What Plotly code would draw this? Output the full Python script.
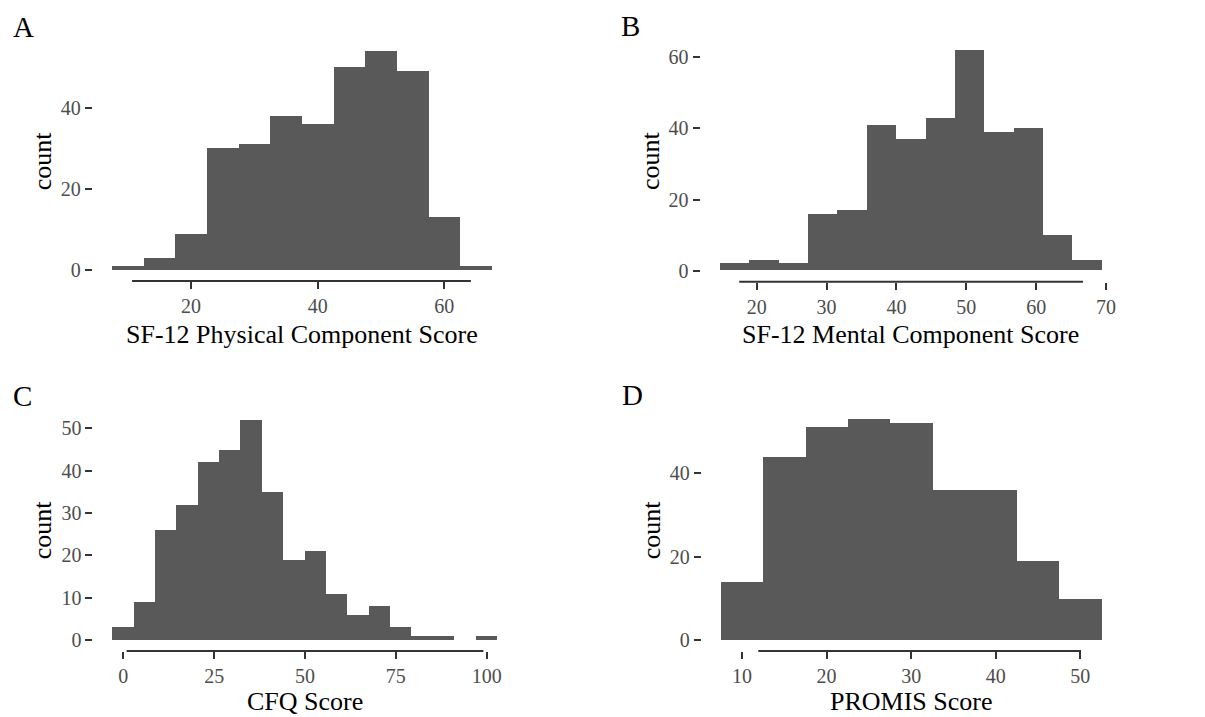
import plotly.graph_objects as go

# The page body has an 8px margin; work in page pixels and convert.
OFF = 8
W, H = 1205 - OFF, 717 - OFF

# ---------------- data ----------------
pcs_centers = [10, 15, 20, 25, 30, 35, 40, 45, 50, 55, 60, 65]
pcs_counts = [1, 3, 9, 30, 31, 38, 36, 50, 54, 49, 13, 1]
pcs_width = 5
pcs_extent = [10.7, 64.2]
pcs_ticks = [20, 40, 60]
pcs_yticks = [0, 20, 40]

mcs_centers = [16.8, 21.0, 25.2, 29.4, 33.6, 37.8, 42.0, 46.2, 50.4, 54.6, 58.8, 63.0, 67.2]
mcs_counts = [2, 3, 2, 16, 17, 41, 37, 43, 62, 39, 40, 10, 3]
mcs_width = 4.2
mcs_extent = [17.5, 66.7]
mcs_ticks = [20, 30, 40, 50, 60, 70]
mcs_yticks = [0, 20, 40, 60]

cfq_width = 100 / 17
cfq_centers = [k * cfq_width for k in range(18)]
cfq_counts = [3, 9, 26, 32, 42, 45, 52, 35, 19, 21, 11, 6, 8, 3, 1, 1, 0, 1]
cfq_extent = [0.9, 99.1]
cfq_ticks = [0, 25, 50, 75, 100]
cfq_yticks = [0, 10, 20, 30, 40, 50]

promis_centers = [10, 15, 20, 25, 30, 35, 40, 45, 50]
promis_counts = [14, 44, 51, 53, 52, 36, 36, 19, 10]
promis_width = 5
promis_extent = [11.93, 50.08]
promis_ticks = [10, 20, 30, 40, 50]
promis_yticks = [0, 20, 40]

letters = ["A", "B", "C", "D"]
xtitles = ["SF-12 Physical Component Score", "SF-12 Mental Component Score",
           "CFQ Score", "PROMIS Score"]
ytitle = "count"

# ---------------- layout (page-pixel boxes of each panel) ----------------
panels = [
    dict(c=pcs_centers, n=pcs_counts, w=pcs_width, ext=pcs_extent, xt=pcs_ticks, yt=pcs_yticks,
         box=(92.8, 510.8, 39.9, 281.0)),
    dict(c=mcs_centers, n=mcs_counts, w=mcs_width, ext=mcs_extent, xt=mcs_ticks, yt=mcs_yticks,
         box=(700.6, 1120.3, 39.2, 281.7)),
    dict(c=cfq_centers, n=cfq_counts, w=cfq_width, ext=cfq_extent, xt=cfq_ticks, yt=cfq_yticks,
         box=(93.4, 516.6, 408.8, 651.0)),
    dict(c=promis_centers, n=promis_counts, w=promis_width, ext=promis_extent, xt=promis_ticks,
         yt=promis_yticks, box=(701.8, 1120.5, 407.7, 651.1)),
]


def px(x):
    return (x - OFF) / W


def py(y):
    return 1 - (y - OFF) / H


FONT = "Liberation Serif"
BAR = "#595959"
TICKC = "#333333"
LABC = "#4d4d4d"

fig = go.Figure()
layout = dict(
    width=W, height=H, margin=dict(l=0, r=0, t=0, b=0),
    paper_bgcolor="white", plot_bgcolor="white", showlegend=False,
    bargap=0, font=dict(family=FONT, color="black"),
)
shapes = []
annotations = []

for i, p in enumerate(panels):
    k = "" if i == 0 else str(i + 1)
    xa, ya = "x" + k, "y" + k
    fig.add_trace(go.Bar(x=p["c"], y=p["n"], width=p["w"], marker=dict(color=BAR, line=dict(width=0)),
                         xaxis=xa, yaxis=ya, hoverinfo="x+y"))
    lo = p["c"][0] - p["w"] / 2
    hi = p["c"][-1] + p["w"] / 2
    dx = 0.05 * (hi - lo)
    ymax = max(p["n"])
    dy = 0.05 * ymax
    x0, x1, top, bot = p["box"]
    common = dict(showgrid=False, zeroline=False, showline=False, ticks="outside",
                  ticklen=7, tickwidth=2, tickcolor=TICKC,
                  tickfont=dict(family=FONT, size=20, color=LABC))
    layout["xaxis" + k] = dict(common, domain=[px(x0), px(x1)], range=[lo - dx, hi + dx],
                               tickmode="array", tickvals=p["xt"], anchor=ya)
    layout["yaxis" + k] = dict(common, domain=[py(bot), py(top)], range=[-dy, ymax + dy],
                               tickmode="array", tickvals=p["yt"], anchor=xa)
    # range-frame x axis line
    shapes.append(dict(type="line", xref=xa, yref=ya + " domain", x0=p["ext"][0], x1=p["ext"][1],
                       y0=0, y1=0, line=dict(color="#333333", width=2)))
    cx = (x0 + x1) / 2
    cy = (top + bot) / 2
    # x title
    annotations.append(dict(text=xtitles[i], xref="paper", yref="paper", x=px(cx),
                            y=max(py(bot + 68.5), 0),
                            xanchor="center", yanchor="bottom", borderpad=0, showarrow=False,
                            font=dict(family=FONT, size=26, color="black")))
    # y title
    annotations.append(dict(text=ytitle, xref="paper", yref="paper", x=px(x0 - 50), y=py(cy),
                            xanchor="center", yanchor="middle", textangle=-90, showarrow=False,
                            font=dict(family=FONT, size=26, color="black")))
    # panel letter
    annotations.append(dict(text=letters[i], xref="paper", yref="paper",
                            x=px(x0 - 82), y=py(top - 13),
                            xanchor="left", yanchor="middle", showarrow=False,
                            font=dict(family=FONT, size=29, color="black")))

layout["shapes"] = shapes
layout["annotations"] = annotations
fig.update_layout(**layout)
fig.write_html("out.html")
